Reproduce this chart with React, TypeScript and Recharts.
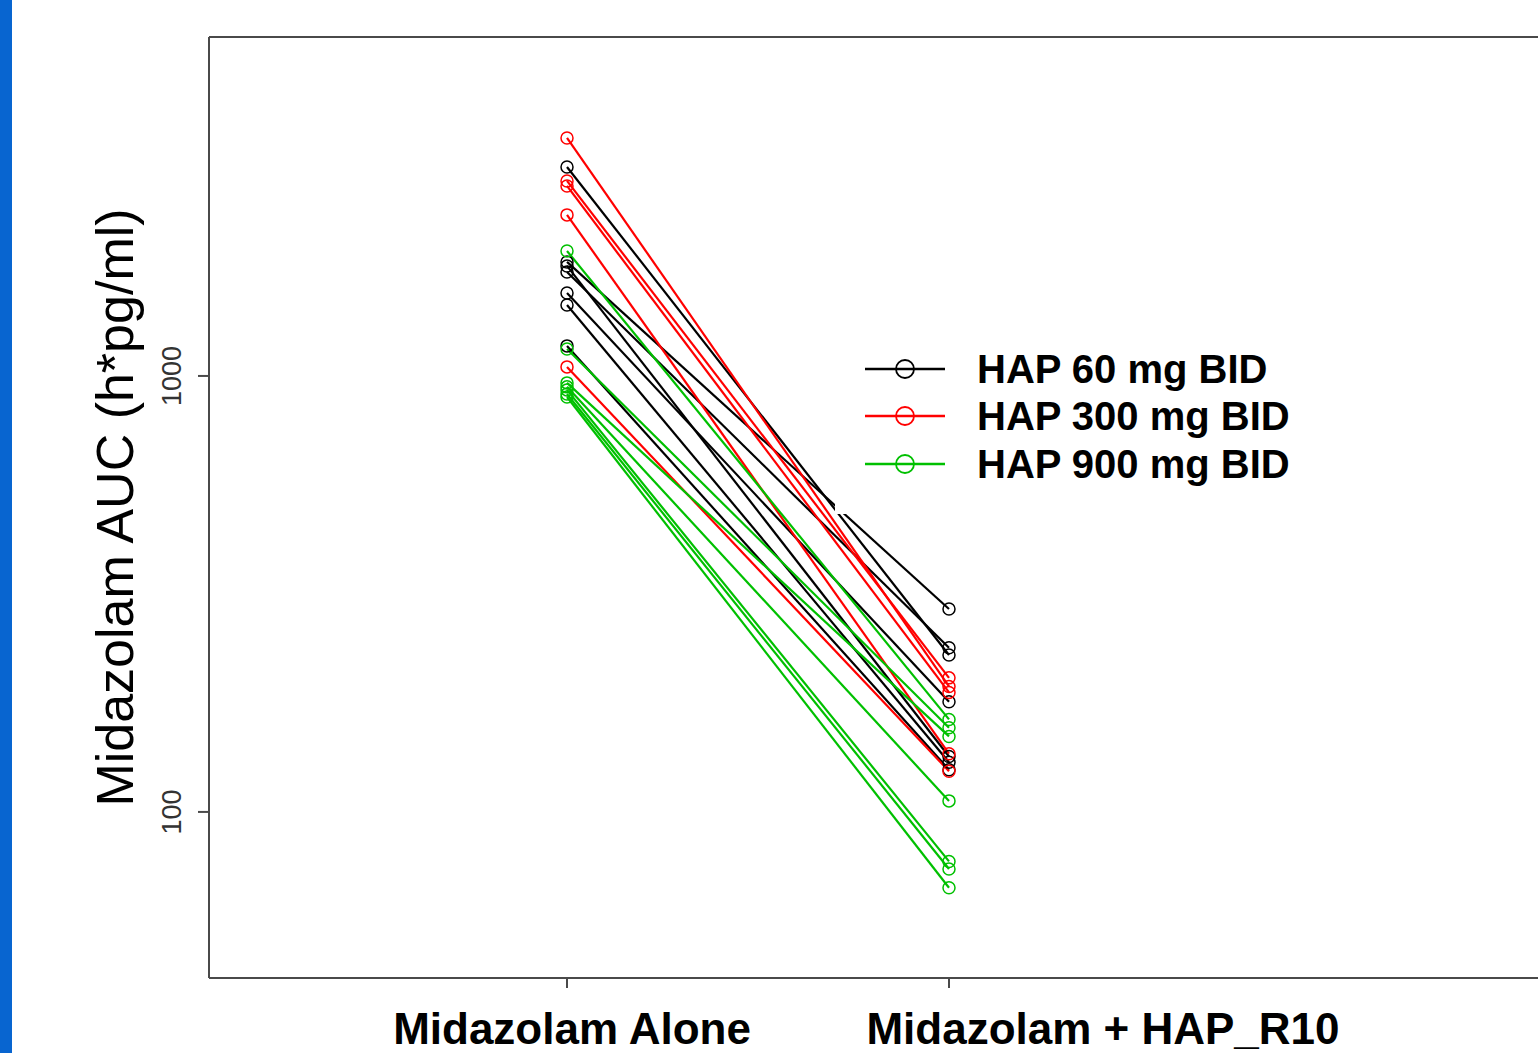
import { Legend, Line, LineChart, ReferenceLine, XAxis, YAxis } from 'recharts'

const periods = ['Midazolam Alone', 'Midazolam + HAP_R10']
const groups = ['HAP 60 mg BID', 'HAP 300 mg BID', 'HAP 900 mg BID']

// AUC per subject, same order in both arrays of a group
const alone60 = [3015, 1826, 1788, 1732, 1550, 1455, 1172]
const withHap60 = [229, 292, 134, 238, 179, 130, 125]
const alone300 = [3515, 2801, 2728, 2341, 1049]
const withHap300 = [194, 203, 188, 136, 124]
const alone900 = [1935, 1153, 964, 944, 929, 909, 895]
const withHap900 = [163, 156, 149, 106, 77, 74, 67]

const yTicks = [100, 1000]
const yDomain = [41.6, 5990]

const series = [
  { name: groups[0], color: '#000000', alone: alone60, withHap: withHap60 },
  { name: groups[1], color: '#ff0000', alone: alone300, withHap: withHap300 },
  { name: groups[2], color: '#00c000', alone: alone900, withHap: withHap900 },
]

const data = periods.map((period, i) => {
  const row: Record<string, number | string> = { pos: i + 1, period }
  series.forEach((s, g) => {
    s.alone.forEach((v, k) => {
      row[`g${g}s${k}`] = i === 0 ? v : s.withHap[k]
    })
  })
  return row
})

const font = '"Liberation Sans", Arial, sans-serif'
const axisColor = '#4a4a4a'

function XTick({ x, y, payload, index }: any) {
  const shift = [5, 154][index] ?? 0
  return (
    <text
      x={x + shift}
      y={y + 56}
      textAnchor="middle"
      fontFamily={font}
      fontWeight="bold"
      fontSize={44}
      fill="#000"
    >
      {periods[payload.value - 1]}
    </text>
  )
}

function YTick({ x, y, payload }: any) {
  const bx = x - 17
  return (
    <text
      x={bx}
      y={y}
      transform={`rotate(-90 ${bx} ${y})`}
      textAnchor="middle"
      fontFamily={font}
      fontSize={27}
      fill="#333"
    >
      {payload.value}
    </text>
  )
}

function YTitle({ viewBox }: any) {
  const cy = viewBox.y + viewBox.height / 2
  return (
    <text
      x={133}
      y={cy}
      transform={`rotate(-90 133 ${cy})`}
      textAnchor="middle"
      fontFamily={font}
      fontSize={52}
      fill="#000"
    >
      Midazolam AUC (h*pg/ml)
    </text>
  )
}

function GroupLegend() {
  return (
    <div style={{ background: '#fff', paddingTop: 25, height: '100%', boxSizing: 'border-box' }}>
      {series.map((s) => (
        <div key={s.name} style={{ display: 'flex', alignItems: 'center', height: 47.5 }}>
          <svg width={142} height={30}>
            <line x1={30} x2={110} y1={15} y2={15} stroke={s.color} strokeWidth={2.5} />
            <circle cx={70} cy={15} r={9} fill="none" stroke={s.color} strokeWidth={1.8} />
          </svg>
          <span style={{ fontFamily: font, fontWeight: 'bold', fontSize: 40, lineHeight: 1, color: '#000' }}>
            {s.name}
          </span>
        </div>
      ))}
    </div>
  )
}

export default function App() {
  return (
    <div
      style={{
        position: 'fixed',
        left: 0,
        top: 0,
        width: 1538,
        height: 1053,
        overflow: 'hidden',
        background: '#fff',
      }}
    >
      <div style={{ position: 'absolute', left: 0, top: 0, width: 12, height: 1053, background: '#0865d0' }} />
      <div style={{ position: 'absolute', left: 0, top: 0 }}>
        <LineChart width={1560} height={1053} data={data} margin={{ top: 37, right: 0, bottom: 0, left: 0 }}>
          <XAxis
            dataKey="pos"
            type="number"
            domain={[0.0628, 3.5995]}
            ticks={[1, 2]}
            height={75}
            tickSize={10}
            tickMargin={0}
            tick={<XTick />}
            stroke={axisColor}
            strokeWidth={2}
            allowDataOverflow
          />
          <YAxis
            scale="log"
            type="number"
            domain={yDomain}
            ticks={yTicks}
            width={209}
            tickSize={11}
            tickMargin={0}
            tick={<YTick />}
            stroke={axisColor}
            strokeWidth={2}
            allowDataOverflow
            label={<YTitle />}
          />
          <ReferenceLine y={yDomain[1]} stroke={axisColor} strokeWidth={2} ifOverflow="visible" />
          <Legend
            layout="vertical"
            align="center"
            verticalAlign="middle"
            content={<GroupLegend />}
            wrapperStyle={{ left: 835, top: 320, width: 465, height: 194 }}
          />
          {series.flatMap((s, g) =>
            s.alone.map((_, k) => (
              <Line
                key={`g${g}s${k}`}
                type="linear"
                dataKey={`g${g}s${k}`}
                name={s.name}
                stroke={s.color}
                strokeWidth={2.2}
                dot={{ r: 6, fill: 'none', stroke: s.color, strokeWidth: 1.5 }}
                activeDot={false}
                legendType="none"
                isAnimationActive={false}
              />
            )),
          )}
        </LineChart>
      </div>
    </div>
  )
}
